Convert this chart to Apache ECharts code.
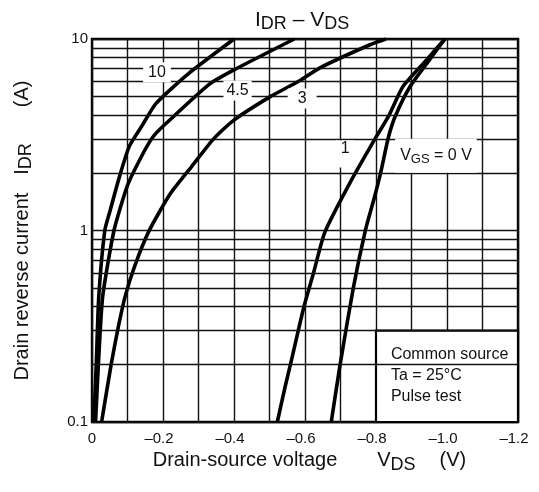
<!DOCTYPE html>
<html>
<head>
<meta charset="utf-8">
<script src="https://cdn.jsdelivr.net/npm/echarts@6/dist/echarts.min.js"></script>
<style>
  html, body { margin: 0; padding: 0; background: #fff; }
  #chart { width: 539px; height: 492px; }
</style>
</head>
<body>
<div id="chart"></div>
<script>
// Drain reverse current vs drain-source voltage, one curve per V_GS (V, A)
const vgs10 = [[-0.005, 0.1], [-0.012, 0.2], [-0.019, 0.45], [-0.036, 1.0], [-0.05, 1.25], [-0.077, 1.9],
               [-0.105, 2.75], [-0.14, 3.5], [-0.18, 4.6], [-0.276, 6.7], [-0.4, 10]];
const vgs45 = [[-0.01, 0.1], [-0.018, 0.2], [-0.03, 0.45], [-0.062, 1.0], [-0.1, 1.72],
               [-0.14, 2.45], [-0.17, 3.05], [-0.2, 3.5], [-0.33, 5.8], [-0.4, 6.9], [-0.57, 10]];
const vgs3  = [[-0.027, 0.1], [-0.054, 0.2], [-0.072, 0.3], [-0.093, 0.45], [-0.12, 0.65], [-0.16, 0.99],
               [-0.22, 1.55], [-0.28, 2.15], [-0.342, 3.0], [-0.398, 3.75], [-0.5, 4.97], [-0.586, 6.07],
               [-0.642, 7.07], [-0.783, 9.33], [-0.828, 10]];
const vgs1  = [[-0.522, 0.1], [-0.543, 0.15], [-0.559, 0.2], [-0.597, 0.4], [-0.624, 0.6], [-0.656, 0.98],
               [-0.73, 1.82], [-0.80, 3.07], [-0.835, 3.94], [-0.876, 5.65], [-0.943, 7.8], [-0.994, 10]];
const vgs0  = [[-0.674, 0.1], [-0.699, 0.2], [-0.736, 0.5], [-0.77, 1.0], [-0.796, 1.5], [-0.813, 2.0],
               [-0.835, 3.07], [-0.854, 3.94], [-0.896, 5.65], [-0.951, 7.8], [-0.994, 10]];

// Curve tags and where they sit (V, A)
const curveTags = ['10', '4.5', '3', '1', '{v|V}{s|GS}{v| = 0 V}'];
const curveTagAt = [[-0.183, 6.7], [-0.41, 5.38], [-0.592, 4.89], [-0.713, 2.51], [-0.969, 2.46]];

// Axis ranges and log-paper minor lines
const xRange = [-1.2, 0];
const xStep = 0.1;
const yRange = [0.1, 10];
const minorLevels = [0.2, 0.3, 0.4, 0.5, 0.6, 0.7, 0.8, 0.9, 2, 3, 4, 5, 6, 7, 8, 9];

// Test-condition note and its box corners (V, A)
const noteLines = ['Common source', 'Ta = 25°C', 'Pulse test'];
const noteBox = [[-0.8, 0.1], [-1.2, 0.3]];

const INK = '#111';
const FONT = 'Liberation Sans, Arial, sans-serif';

const chart = echarts.init(document.getElementById('chart'));

function curve(data) {
  return {
    type: 'line', data: data, showSymbol: false, symbol: 'none', smooth: 0.2, z: 4,
    lineStyle: { color: '#000', width: 3.6 }, silent: true
  };
}

function txt(size, extra) {
  return Object.assign({ fontSize: size, fontFamily: FONT, color: INK, fontWeight: 'normal' }, extra || {});
}

// per-tag box padding so each tag clears the grid lines around it
const tagPad = [[2, 5, 2, 5], [2, 3, 2, 3], [2, 10, 2, 10], [0, 5, 11, 5], [7, 5, 7, 5]];

chart.setOption({
  animation: false,
  backgroundColor: '#fff',
  title: {
    text: '{a|I}{b|DR}{a| – V}{b|DS}',
    left: 250, top: 2,
    textStyle: {
      fontWeight: 'normal',
      rich: {
        a: txt(21),
        b: txt(18, { padding: [8, 0, 0, 0] })
      }
    }
  },
  grid: {
    left: 92, right: 21, top: 39, bottom: 70,
    show: true, borderColor: '#000', borderWidth: 2.4, backgroundColor: 'transparent'
  },
  xAxis: {
    type: 'value', inverse: true, min: xRange[0], max: xRange[1], interval: xStep,
    axisLine: { show: false }, axisTick: { show: false },
    splitLine: { show: true, lineStyle: { color: INK, width: 1.4 } },
    axisLabel: Object.assign(txt(15), {
      margin: 9,
      formatter: function (v) {
        const n = Math.round(-v * 10);
        if (n % 2 !== 0) return '';
        if (n === 0) return '0';
        return '{m|–' + (n / 10).toFixed(1) + '}';
      },
      rich: { m: txt(15, { padding: [0, 8, 0, 0] }) }
    }),
    name: '{t|Drain-source voltage}{v|V}{s|DS}{p|(V)}',
    nameLocation: 'middle', nameGap: 25,
    nameTextStyle: {
      padding: [0, 0, 0, 9],
      rich: {
        t: txt(20),
        v: txt(20, { padding: [0, 0, 0, 40] }),
        s: txt(18, { padding: [8, 0, 0, 0] }),
        p: txt(20, { padding: [0, 0, 0, 24] })
      }
    }
  },
  yAxis: {
    type: 'log', logBase: 10, min: yRange[0], max: yRange[1],
    axisLine: { show: false }, axisTick: { show: false },
    splitLine: { show: true, lineStyle: { color: INK, width: 1.4 } },
    minorTick: { show: false }, minorSplitLine: { show: false },
    axisLabel: Object.assign(txt(15), {
      margin: 4,
      formatter: function (v) { return String(+(+v).toPrecision(3)); }
    }),
    name: '{t|Drain reverse current}{v|I}{s|DR}{p|(A)}',
    nameLocation: 'middle', nameGap: 57, nameRotate: 90,
    nameTextStyle: {
      rich: {
        t: txt(20),
        v: txt(20, { padding: [0, 0, 0, 18] }),
        s: txt(18, { padding: [8, 0, 0, 0] }),
        p: txt(20, { padding: [0, 0, 0, 36] })
      }
    }
  },
  series: [
    {
      // log-paper minor grid (2 … 9 in each decade)
      type: 'line', data: [], silent: true, z: 1,
      markLine: {
        silent: true, symbol: ['none', 'none'], animation: false,
        label: { show: false },
        lineStyle: { color: INK, width: 1.4, type: 'solid' },
        emphasis: { disabled: true },
        data: minorLevels.map(function (v) { return { yAxis: v }; })
      }
    },
    {
      // boxed test-condition note
      type: 'line', data: [], silent: true, z: 3,
      markArea: {
        silent: true,
        itemStyle: { color: '#fff', opacity: 1, borderColor: '#000', borderWidth: 2.2 },
        label: Object.assign(txt(16), {
          show: true, position: 'insideTopLeft', distance: 5,
          padding: [10, 0, 0, 11], lineHeight: 21,
          formatter: noteLines.join('\n')
        }),
        emphasis: { disabled: true },
        data: [[{ coord: noteBox[0] }, { coord: noteBox[1] }]]
      }
    },
    curve(vgs10),
    curve(vgs45),
    curve(vgs3),
    curve(vgs1),
    curve(vgs0),
    {
      type: 'scatter', symbolSize: 0, z: 5, silent: true,
      itemStyle: { opacity: 1 },
      data: curveTagAt.map(function (p, i) {
        return { value: p, name: curveTags[i], label: { padding: tagPad[i] } };
      }),
      label: Object.assign(txt(16), {
        show: true, position: 'inside', opacity: 1,
        backgroundColor: '#fff', textBorderWidth: 0,
        formatter: function (p) { return p.name; },
        rich: {
          v: txt(16),
          s: txt(13, { padding: [7, 0, 0, 0] })
        }
      })
    }
  ]
});
</script>
</body>
</html>
